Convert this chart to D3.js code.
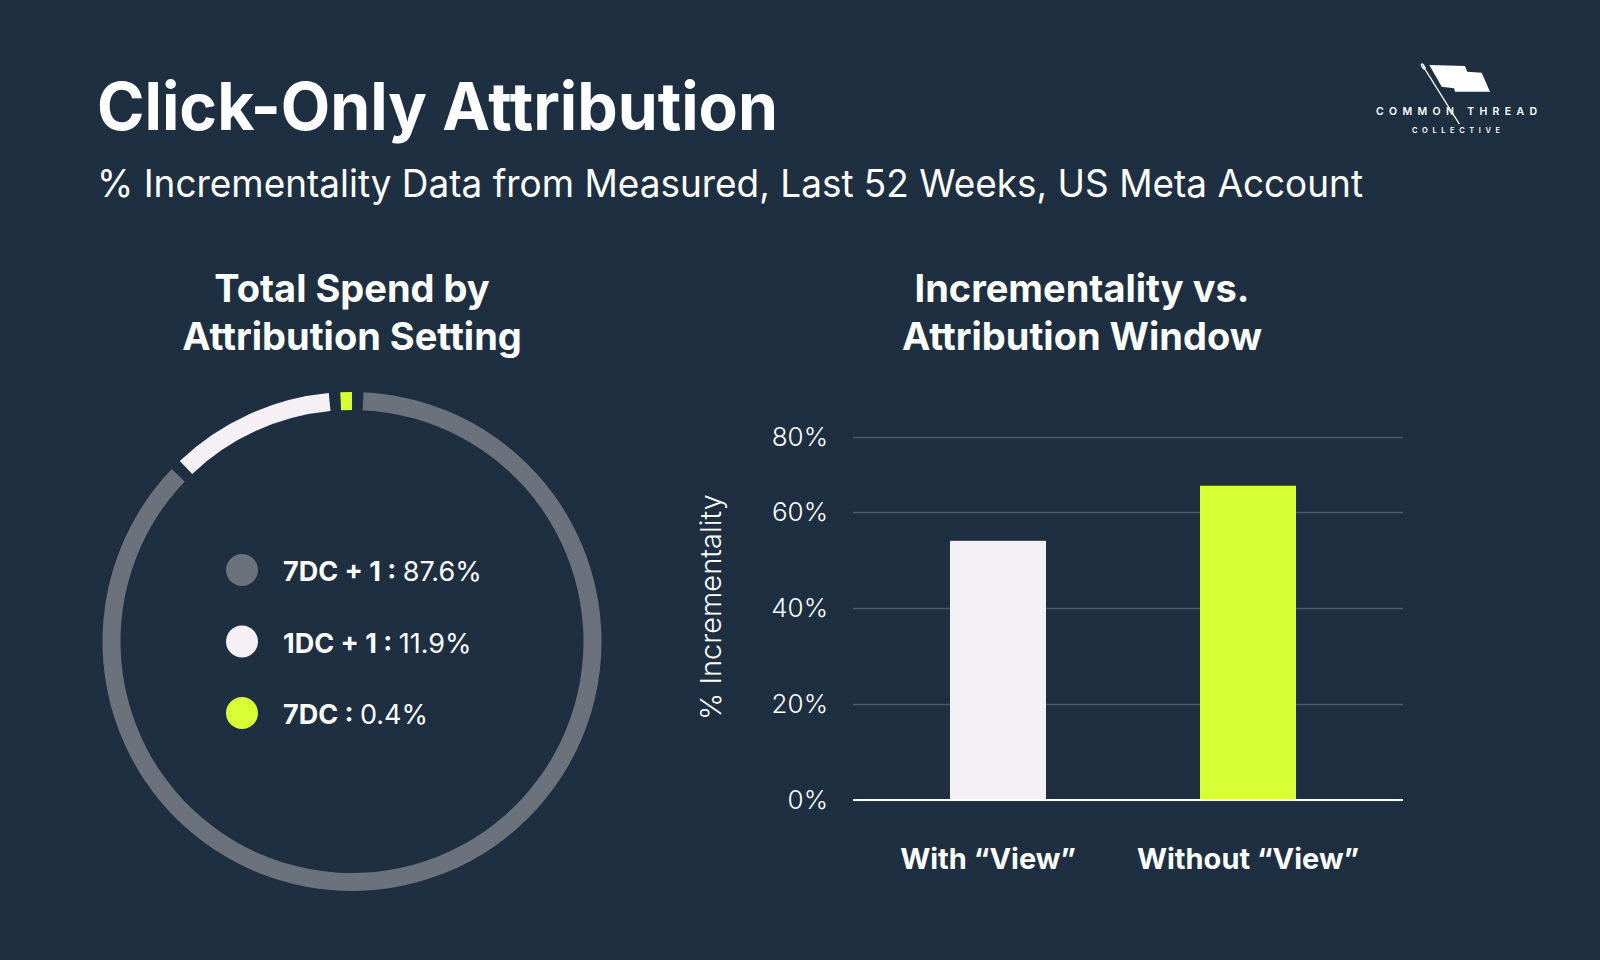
<!DOCTYPE html>
<html>
<head>
<meta charset="utf-8">
<script src="https://cdn.jsdelivr.net/npm/d3@7"></script>
<style>
  html, body { margin: 0; padding: 0; background: #1e2f42; }
  svg { display: block; }
  text { font-family: Inter, "Open Sans", "Noto Sans", sans-serif; fill: #ffffff; }
</style>
</head>
<body>
<svg id="chart" width="1600" height="960"></svg>
<script>
// ---------- data ----------
const spendCategories = ['7DC + 1', '1DC + 1', '7DC'];
const spendShare = [87.6, 11.9, 0.4];
const barCategories = ['With \u201CView\u201D', 'Without \u201CView\u201D'];
const incrementality = [54, 67];
const yTicks = [0, 20, 40, 60, 80];

// ---------- style ----------
const BG = '#1e2f42';
const sliceColors = ['#6b727b', '#f4f0f6', '#d8ff33'];
const barColors = ['#f4f0f6', '#d8ff33'];

const svg = d3.select('#chart');
svg.append('rect').attr('width', 1600).attr('height', 960).attr('fill', BG);

// ---------- header ----------
svg.append('text').attr('x', 97).attr('y', 130)
  .attr('font-size', 66).attr('font-weight', 700)
  .attr('textLength', 681).attr('lengthAdjust', 'spacingAndGlyphs')
  .text('Click-Only Attribution');
svg.append('text').attr('x', 97).attr('y', 197)
  .attr('font-size', 38).attr('font-weight', 400)
  .attr('textLength', 1266).attr('lengthAdjust', 'spacingAndGlyphs')
  .text('% Incrementality Data from Measured, Last 52 Weeks, US Meta Account');

// ---------- logo ----------
const logo = svg.append('g');
logo.append('path')
  .attr('d', 'M1429.3,65 L1465,66 L1467.3,71.7 L1481.7,72.7 L1490,91.7 L1455,91.7 L1454,88.3 L1441.7,86.7 Z')
  .attr('fill', '#ffffff');
logo.append('line').attr('x1', 1421.7).attr('y1', 64).attr('x2', 1459.3).attr('y2', 124)
  .attr('stroke', '#ffffff').attr('stroke-width', 1.4);
logo.append('ellipse').attr('cx', 1423.2).attr('cy', 66.5).attr('rx', 1.2).attr('ry', 3)
  .attr('transform', 'rotate(-32 1423.2 66.5)')
  .attr('fill', 'none').attr('stroke', '#ffffff').attr('stroke-width', 1);
logo.append('text').attr('x', 1376).attr('y', 115)
  .attr('font-size', 10.5).attr('font-weight', 600)
  .attr('textLength', 161).attr('lengthAdjust', 'spacing')
  .text('COMMON THREAD');
logo.append('text').attr('x', 1412).attr('y', 133)
  .attr('font-size', 7.5).attr('font-weight', 600)
  .attr('textLength', 88).attr('lengthAdjust', 'spacing')
  .text('COLLECTIVE');

// ---------- section titles ----------
function twoLine(cx, lines) {
  const t = svg.append('g');
  lines.forEach((l, i) => {
    t.append('text').attr('x', cx).attr('y', 302 + i * 48)
      .attr('text-anchor', 'middle').attr('font-size', 38).attr('font-weight', 700)
      .text(l);
  });
}
twoLine(352, ['Total Spend by', 'Attribution Setting']);
twoLine(1082, ['Incrementality vs.', 'Attribution Window']);

// ---------- donut ----------
const cx = 352, cy = 641.5;
const TAU = Math.PI * 2;
const a0 = -0.011;
const pie = d3.pie().sort(null).value(d => d).startAngle(a0).endAngle(a0 + TAU);
const arcs = pie(spendShare);
const gap = 0.046, minSpan = 0.047, n = arcs.length;
const vis = arcs.map(a => ({ s: a.startAngle + gap / 2, e: a.endAngle - gap / 2 }));
vis.forEach((v, i) => {
  if (v.e - v.s < minSpan) {
    const m = (arcs[i].startAngle + arcs[i].endAngle) / 2;
    v.s = m - minSpan / 2; v.e = m + minSpan / 2;
    const p = vis[(i + n - 1) % n], q = vis[(i + 1) % n];
    const wrapQ = (i + 1) >= n ? TAU : 0;
    const wrapP = (i - 1) < 0 ? -TAU : 0;
    p.e = Math.min(p.e + wrapP, v.s - gap) - wrapP;
    q.s = Math.max(q.s + wrapQ, v.e + gap) - wrapQ;
  }
});
const arcGen = d3.arc().innerRadius(231.5).outerRadius(249.5);
const donut = svg.append('g').attr('transform', `translate(${cx},${cy})`);
donut.selectAll('path').data(vis).join('path')
  .attr('d', d => arcGen({ startAngle: d.s, endAngle: d.e }))
  .attr('fill', (d, i) => sliceColors[i]);

// legend
const legend = svg.append('g');
const legY = d3.scalePoint().domain(spendCategories).range([570, 713]);
spendCategories.forEach((c, i) => {
  const y = legY(c);
  legend.append('circle').attr('cx', 242).attr('cy', y).attr('r', 16).attr('fill', sliceColors[i]);
  const t = legend.append('text').attr('x', 283).attr('y', y + 11).attr('font-size', 27);
  t.append('tspan').attr('font-weight', 700).text(c + ' : ');
  t.append('tspan').attr('font-weight', 400).text(d3.format('.1f')(spendShare[i]) + '%');
});

// ---------- bar chart ----------
const gridX0 = 853, gridX1 = 1403;
const y = d3.scaleLinear().domain([0, 60, 80]).range([800, 512, 437]);
const x = d3.scaleBand().domain(barCategories).range([853, 1393])
  .paddingInner(0.616).paddingOuter(0.388);

const yAxis = svg.append('g').attr('transform', `translate(${gridX0},0)`)
  .call(d3.axisLeft(y).tickValues(yTicks).tickSize(-(gridX1 - gridX0)).tickPadding(25)
    .tickFormat(d => d + '%'));
yAxis.select('.domain').remove();
yAxis.selectAll('.tick line').attr('stroke', '#4d5a69').attr('stroke-width', 1.5);
yAxis.selectAll('.tick text').attr('fill', '#ffffff').attr('font-size', 26)
  .attr('font-family', 'Inter, "Open Sans", sans-serif').attr('font-weight', 300);

svg.append('g').selectAll('rect').data(incrementality).join('rect')
  .attr('x', (d, i) => x(barCategories[i]))
  .attr('width', x.bandwidth())
  .attr('y', d => y(d))
  .attr('height', d => y(0) - y(d))
  .attr('fill', (d, i) => barColors[i]);

// baseline
svg.append('line').attr('x1', gridX0).attr('x2', gridX1).attr('y1', y(0)).attr('y2', y(0))
  .attr('stroke', '#ffffff').attr('stroke-width', 2);

// x labels
svg.append('g').selectAll('text').data(barCategories).join('text')
  .attr('x', d => x(d) + x.bandwidth() / 2 - (d === barCategories[0] ? 10 : 0))
  .attr('y', 869).attr('text-anchor', 'middle')
  .attr('font-size', 29).attr('font-weight', 700)
  .text(d => d);

// y title
svg.append('text').attr('transform', 'translate(721,607) rotate(-90)')
  .attr('text-anchor', 'middle').attr('font-size', 29).attr('font-weight', 300)
  .text('% Incrementality');
</script>
</body>
</html>
